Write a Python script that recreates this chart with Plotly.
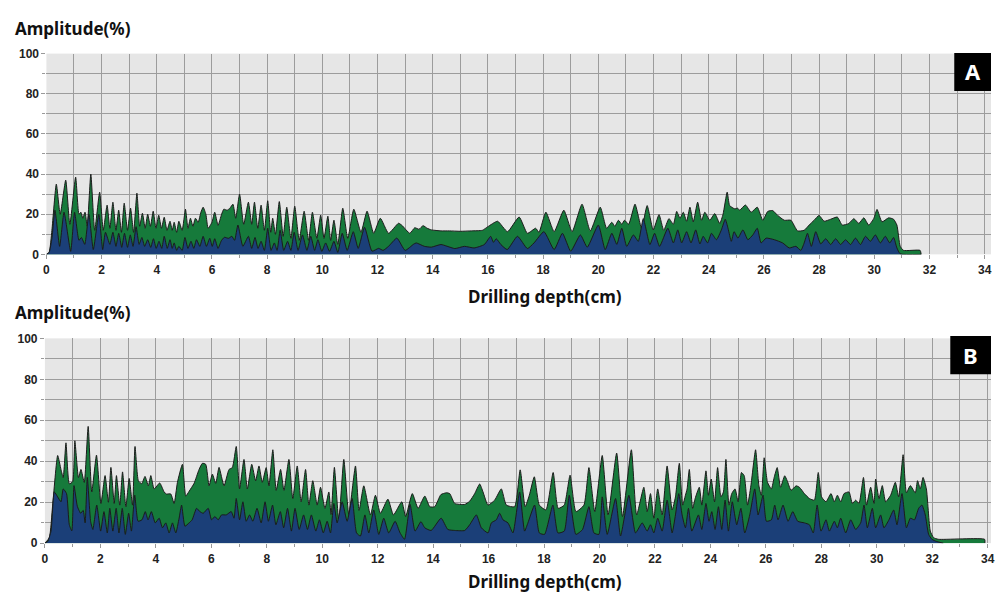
import plotly.graph_objects as go

# ---------------- Panel A ----------------
a_green_depth = [0.0, 0.1, 0.2, 0.36, 0.5, 0.7, 0.85, 1.06, 1.18, 1.25, 1.32, 1.4, 1.48, 1.61, 1.75, 1.93, 2.06,
                 2.2, 2.3, 2.41, 2.52, 2.62, 2.72, 2.82, 2.94, 3.05, 3.16, 3.28, 3.38, 3.48, 3.58, 3.67, 3.77,
                 3.87, 3.97, 4.07, 4.17, 4.27, 4.37, 4.48, 4.56, 4.63, 4.72, 4.8, 4.92, 5.04, 5.13, 5.22, 5.31,
                 5.4, 5.5, 5.6, 5.68, 5.78, 5.86, 6.0, 6.1, 6.22, 6.35, 6.43, 6.55, 6.65, 6.76, 6.86, 7.0, 7.15,
                 7.32, 7.44, 7.54, 7.66, 7.78, 7.9, 8.02, 8.13, 8.2, 8.3, 8.44, 8.58, 8.71, 8.86, 9.0, 9.16,
                 9.34, 9.5, 9.64, 9.8, 9.94, 10.06, 10.2, 10.3, 10.42, 10.56, 10.74, 10.92, 11.14, 11.4, 11.62,
                 11.86, 12.1, 12.4, 12.76, 12.88, 13.17, 13.35, 13.5, 13.65, 13.8, 13.95, 14.3, 14.6, 15.0,
                 15.4, 15.8, 16.0, 16.35, 16.71, 17.13, 17.43, 17.73, 17.85, 18.1, 18.4, 18.75, 19.05, 19.41,
                 19.71, 20.07, 20.3, 20.49, 20.6, 20.73, 20.85, 20.95, 21.1, 21.33, 21.57, 21.77, 21.99, 22.2,
                 22.37, 22.56, 22.72, 22.84, 22.96, 23.08, 23.2, 23.32, 23.44, 23.6, 23.74, 23.86, 24.04,
                 24.22, 24.4, 24.52, 24.67, 24.76, 24.94, 25.05, 25.12, 25.33, 25.54, 25.76, 25.96, 26.14,
                 26.32, 26.5, 26.74, 26.98, 27.22, 27.46, 27.64, 27.82, 28.0, 28.18, 28.42, 28.66, 28.84,
                 29.08, 29.26, 29.44, 29.62, 29.8, 29.98, 30.1, 30.28, 30.52, 30.7, 30.82, 30.94, 31.06,
                 31.66, 31.7]
a_green_amp = [0, 1, 12, 35, 20, 37, 15, 38.5, 20, 21, 18, 21, 14, 40, 12, 31, 12,
               24.5, 13, 26, 12, 22, 11, 25.5, 12, 23, 11, 30.5, 14, 20.5, 13, 20, 14,
               21.5, 13, 19.5, 13, 18.5, 12, 16.5, 12, 16, 11, 16.5, 12, 22.5, 13, 18, 14,
               18, 16, 21, 23.5, 20, 13, 16, 21, 14.5, 20, 22.5, 22, 23, 25, 18, 30, 15,
               26, 15, 26, 13, 24.5, 12, 26.7, 11, 18, 10, 26.3, 9, 23.5, 8, 24, 7,
               21.5, 7, 21, 8, 19.5, 8, 19, 7, 17, 5, 23, 8, 22.5, 11, 21.5,
               10.5, 18, 10.5, 15.5, 14.5, 10.5, 13.3, 12.5, 14.3, 13, 12.2, 11.7, 11.7, 11.5,
               11.7, 12, 13.8, 16.5, 11.3, 18.6, 10.5, 13, 11, 21, 11.3, 22, 11.3, 25,
               11.7, 23.5, 13, 16, 14, 17, 15, 17, 15, 25, 13, 24.3, 12.2, 19.8,
               12, 17.8, 15, 21.4, 18, 21, 16.5, 23.5, 16.2, 26, 17, 21, 17,
               20.3, 15.4, 20, 31, 24.3, 22.7, 23, 22, 24.6, 21, 23.5, 17, 21.4,
               21.8, 19.4, 17, 17, 11.7, 12, 14.6, 17, 19.4, 16.5, 17.5, 18.6, 14.6,
               15.4, 17.8, 15.4, 18.2, 14.6, 17.8, 22.4, 16.2, 18.2, 17.5, 14.6, 4, 2,
               2, 0]

a_blue_depth = [0.0, 0.1, 0.2, 0.31, 0.48, 0.64, 0.88, 1.02, 1.18, 1.27, 1.39, 1.54, 1.7, 1.9, 2.04, 2.14,
                2.3, 2.41, 2.52, 2.62, 2.73, 2.83, 2.94, 3.04, 3.14, 3.25, 3.36, 3.46, 3.56, 3.67, 3.78, 3.88,
                3.98, 4.08, 4.18, 4.27, 4.38, 4.48, 4.56, 4.63, 4.72, 4.8, 4.92, 5.02, 5.13, 5.24, 5.34, 5.44,
                5.56, 5.68, 5.8, 5.92, 6.01, 6.1, 6.22, 6.34, 6.45, 6.6, 6.72, 6.82, 6.94, 7.12, 7.32, 7.44,
                7.56, 7.67, 7.78, 7.9, 8.02, 8.14, 8.26, 8.36, 8.47, 8.6, 8.74, 8.86, 8.98, 9.12, 9.28, 9.44,
                9.58, 9.72, 9.84, 9.98, 10.12, 10.26, 10.42, 10.56, 10.72, 10.9, 11.12, 11.3, 11.53, 11.8,
                12.04, 12.2, 12.4, 12.7, 13.0, 13.3, 13.4, 13.7, 13.95, 14.3, 14.8, 15.15, 15.5, 15.87, 16.1,
                16.2, 16.3, 16.47, 16.7, 17.07, 17.43, 17.67, 18.03, 18.4, 18.7, 19.0, 19.35, 19.6, 20.0,
                20.25, 20.49, 20.67, 20.85, 21.03, 21.27, 21.45, 21.63, 21.87, 22.04, 22.22, 22.52, 22.72,
                22.88, 23.02, 23.2, 23.36, 23.53, 23.68, 23.8, 23.96, 24.1, 24.28, 24.46, 24.6, 24.7, 24.82,
                24.92, 25.06, 25.24, 25.42, 25.6, 25.76, 25.9, 26.08, 26.38, 26.68, 26.92, 27.16, 27.34,
                27.46, 27.58, 27.72, 27.88, 28.06, 28.24, 28.42, 28.6, 28.78, 28.96, 29.14, 29.32, 29.5,
                29.68, 29.86, 30.04, 30.22, 30.4, 30.56, 30.7, 30.82, 30.94, 31.7]
a_blue_amp = [0, 1, 8, 22, 4, 21, 1.5, 21, 7, 8.4, 5, 20, 2.4, 20, 2.4, 11,
              5, 11, 4, 10.5, 3.5, 10.5, 3.5, 9.7, 4, 13.8, 5, 8.4, 4, 7.3, 3.5, 7.8,
              3, 6.5, 3, 9, 3, 7.3, 3, 5.7, 2, 4, 2, 8.4, 3, 6.5, 3, 7.3,
              4, 9, 4, 8, 4, 7.8, 3, 6.8, 8.5, 8, 9, 7, 14.6, 4, 9, 3,
              8.4, 3, 6.5, 2, 13, 2, 5.7, 2, 12, 2, 6.5, 2, 11, 2, 9.7, 2,
              9, 2, 7.3, 1.5, 5.7, 1.5, 6.5, 1, 10.5, 2, 11.3, 3, 13.5, 1.6,
              3, 2, 4, 8.1, 2, 5, 5.7, 4, 3.6, 4.9, 2.9, 4, 3.2, 4.9, 9,
              6, 7.8, 4.9, 2.4, 9, 2.9, 5.7, 11.3, 2.4, 10.5, 1.6, 9.7, 3.6, 14.6,
              2.4, 10.5, 5, 13, 4, 9.7, 6.5, 17.8, 4.9, 10.5, 4, 13, 5.7,
              12.2, 5.7, 11.3, 5.7, 12.2, 5.2, 9, 5.7, 10.5, 7.3, 12.2, 17.5, 13, 6.5,
              11.3, 8.1, 12.2, 7.3, 9.7, 13, 5.7, 8.1, 7.3, 5.7, 3.2, 4, 2,
              5.7, 10.5, 4, 11.3, 5.2, 7.8, 4.9, 7.8, 4.9, 7.3, 4.9, 8.1, 4.9,
              9, 6.5, 9.7, 5.7, 9, 5.7, 8.4, 3.2, 0.3, 0]

# ---------------- Panel B ----------------
b_green_depth = [0.0, 0.16, 0.28, 0.46, 0.58, 0.66, 0.76, 0.88, 1.0, 1.08, 1.21, 1.3, 1.42, 1.56, 1.69, 1.86,
                 2.02, 2.17, 2.29, 2.38, 2.5, 2.58, 2.7, 2.8, 2.92, 3.04, 3.16, 3.25, 3.37, 3.49, 3.61, 3.73,
                 3.82, 3.94, 4.14, 4.3, 4.38, 4.54, 4.66, 4.78, 4.96, 5.08, 5.2, 5.38, 5.56, 5.68, 5.8, 5.92,
                 6.04, 6.16, 6.28, 6.46, 6.64, 6.76, 6.9, 7.02, 7.18, 7.3, 7.46, 7.6, 7.72, 7.84, 7.98, 8.08,
                 8.22, 8.34, 8.5, 8.62, 8.8, 8.94, 9.1, 9.24, 9.4, 9.52, 9.66, 9.82, 9.94, 10.1, 10.24, 10.32,
                 10.44, 10.6, 10.78, 10.96, 11.2, 11.33, 11.5, 11.74, 11.92, 12.1, 12.37, 12.57, 12.87, 13.01,
                 13.25, 13.46, 13.7, 13.88, 14.06, 14.28, 14.48, 14.6, 14.78, 15.14, 15.32, 15.5, 15.68, 15.8,
                 15.98, 16.22, 16.46, 16.64, 16.94, 17.14, 17.32, 17.47, 17.65, 17.83, 18.07, 18.33, 18.51,
                 18.73, 18.94, 19.15, 19.44, 19.62, 19.83, 20.1, 20.31, 20.62, 20.83, 21.15, 21.34, 21.6,
                 21.72, 21.84, 21.96, 22.1, 22.26, 22.44, 22.62, 22.74, 22.88, 23.0, 23.1, 23.16, 23.24,
                 23.36, 23.45, 23.6, 23.69, 23.84, 23.93, 24.03, 24.15, 24.26, 24.38, 24.47, 24.56, 24.67,
                 24.77, 24.89, 25.0, 25.12, 25.22, 25.34, 25.46, 25.63, 25.75, 25.84, 25.94, 26.06, 26.2,
                 26.3, 26.41, 26.53, 26.68, 26.77, 26.91, 27.09, 27.21, 27.39, 27.57, 27.75, 27.89, 28.01,
                 28.17, 28.35, 28.47, 28.58, 28.7, 28.82, 29.0, 29.12, 29.24, 29.36, 29.52, 29.63, 29.78,
                 29.9, 29.96, 30.08, 30.2, 30.32, 30.5, 30.67, 30.79, 30.95, 31.07, 31.21, 31.39, 31.47,
                 31.57, 31.67, 31.79, 31.93, 32.05, 32.22, 33.89, 33.9]
b_green_amp = [0, 2.7, 18.6, 42.8, 36, 32, 49, 29, 30, 50, 32, 36, 29.7, 57, 25, 43,
               19.4, 33, 20, 37, 19.4, 33, 18.6, 34.8, 17.8, 31.6, 18.6, 47.2, 30.5, 29, 32.6, 28,
               33, 26.5, 29.4, 25, 24, 24, 19.4, 29.7, 38.5, 23, 25.3, 29.2, 36, 39, 38.5, 28,
               33.7, 29.2, 37, 28, 36, 36.9, 47.2, 26.5, 40.9, 26.5, 38.5, 30.5, 37.7, 29.7, 36.9, 28,
               45.6, 25.8, 36, 25.8, 40.9, 21.8, 37.7, 20.2, 36, 18.6, 30.5, 18.6, 27.3, 17, 25, 14,
               37, 10.8, 40.9, 14, 37.7, 16, 28, 13.8, 23.4, 14.6, 21.5, 13.8, 20.2, 13,
               24.2, 17, 23, 17.8, 17.8, 23.7, 24.6, 24.2, 19.4, 18.9, 20.5, 24.2, 28.9, 25,
               18.6, 21, 26.5, 18.6, 17.8, 35.8, 17.8, 23.4, 32.4, 18.6, 16.2, 34.5, 17,
               18.6, 33.2, 15.4, 18.6, 36.9, 15.4, 42.8, 13.8, 44, 13, 45.6, 13.8, 27.3,
               15.4, 24.2, 12.2, 26.5, 13.8, 37.7, 16.2, 22.6, 39, 18.6, 23.4, 26.5, 36,
               17, 21.8, 27.3, 18.6, 35.3, 23.4, 31.3, 20.2, 36.9, 22.6, 25, 40.9, 18.6,
               24.2, 26.5, 20.2, 34.5, 32.9, 18.6, 28, 45.6, 28, 23.4, 41.7, 29.7, 26.5,
               32.1, 36.9, 27.3, 32.9, 30.5, 25.8, 28, 27.3, 24.2, 21.8, 21, 34.5, 22.6,
               20.2, 24.2, 20.2, 23.4, 20.2, 24.2, 25, 19.4, 21, 19.4, 32.1, 18.6, 27.3,
               19.4, 31.3, 21.8, 28.1, 20.2, 23.4, 29.7, 22.6, 43.2, 24.6, 28.1, 24.6, 30.5,
               26.5, 32.1, 26.5, 5.9, 2.7, 1.9, 1.9, 0]

b_blue_depth = [0.0, 0.1, 0.22, 0.34, 0.46, 0.58, 0.66, 0.78, 0.88, 0.97, 1.05, 1.17, 1.29, 1.38, 1.45, 1.53,
                1.65, 1.73, 1.87, 2.01, 2.13, 2.25, 2.34, 2.45, 2.57, 2.67, 2.79, 2.9, 3.02, 3.12, 3.24, 3.36,
                3.5, 3.62, 3.72, 3.84, 3.98, 4.12, 4.24, 4.36, 4.48, 4.6, 4.72, 4.84, 4.93, 5.05, 5.2, 5.31,
                5.47, 5.59, 5.71, 5.89, 6.01, 6.13, 6.25, 6.37, 6.54, 6.72, 6.82, 6.9, 7.02, 7.14, 7.26, 7.38,
                7.5, 7.65, 7.8, 7.94, 8.06, 8.21, 8.33, 8.49, 8.61, 8.75, 8.89, 9.02, 9.17, 9.33, 9.47, 9.61,
                9.77, 9.9, 10.04, 10.18, 10.3, 10.42, 10.54, 10.72, 10.9, 11.08, 11.24, 11.38, 11.54, 11.68,
                11.86, 12.04, 12.22, 12.4, 12.63, 12.81, 12.97, 13.17, 13.35, 13.56, 13.7, 13.93, 14.29,
                14.53, 14.78, 15.14, 15.32, 15.56, 15.74, 15.98, 16.1, 16.28, 16.4, 16.52, 16.7, 16.88,
                17.12, 17.3, 17.42, 17.66, 17.83, 18.02, 18.32, 18.5, 18.73, 18.91, 19.15, 19.39, 19.62,
                19.8, 19.98, 20.1, 20.28, 20.58, 20.76, 21.06, 21.3, 21.54, 21.72, 21.84, 21.96, 22.1,
                22.26, 22.44, 22.62, 22.74, 22.86, 22.98, 23.1, 23.21, 23.33, 23.57, 23.69, 23.84, 23.95,
                24.05, 24.17, 24.29, 24.41, 24.53, 24.65, 24.79, 24.95, 25.1, 25.24, 25.42, 25.6, 25.72,
                25.9, 26.02, 26.2, 26.32, 26.44, 26.62, 26.8, 26.97, 27.15, 27.39, 27.57, 27.71, 27.85,
                27.99, 28.17, 28.29, 28.47, 28.58, 28.7, 28.88, 29.06, 29.24, 29.42, 29.54, 29.66, 29.84,
                29.96, 30.14, 30.26, 30.44, 30.61, 30.73, 30.91, 31.07, 31.21, 31.36, 31.51, 31.63, 31.75,
                31.87, 31.99, 32.16, 32.4]
b_blue_amp = [0, 0.8, 5.9, 25, 22.6, 20.2, 26.5, 24.2, 9, 6, 28.1, 18, 14.6, 16, 9.9, 32.1,
              10.5, 6.7, 18.6, 5.9, 15.4, 5, 17, 5.9, 17, 5, 17, 4.3, 14.6, 5.9, 23.4, 10.7,
              11.4, 15.4, 11.4, 15.4, 9.9, 12.2, 7.5, 9.9, 5, 9.9, 5, 12.2, 18.6, 8.3, 9.9, 11.4,
              17, 15.4, 14.6, 17, 11.4, 13, 11.4, 13.8, 13.8, 15.4, 12.2, 21.8, 11.4, 20.2, 10.7, 13.8,
              10.7, 17, 9.9, 20.2, 10.7, 18.6, 9, 15.4, 7.5, 17, 5.9, 17, 6.7, 13.8, 6.7, 13.8,
              5.9, 11.4, 5, 10.7, 5, 19.4, 9.9, 20.2, 10.7, 21.8, 5, 3.5, 13.8, 5,
              16.2, 4.3, 12.2, 5, 10.7, 5, 1.9, 18.9, 5.9, 10.5, 7.5, 6.2, 12.2,
              6.7, 6.2, 6.2, 9, 13.8, 7.5, 5, 9.9, 11.4, 14.6, 11.4, 9.9, 5,
              25, 5.9, 9.9, 18.6, 5, 4.3, 18.6, 5, 5.9, 23.4, 4.3, 6.7, 17.8,
              5, 4.3, 22.6, 4.3, 21.8, 3.5, 23.4, 5, 9.9, 5.9, 9, 5, 12.2,
              5.9, 21, 5, 13.8, 24.2, 13.8, 7.5, 17, 5.9, 13.8, 6.7, 19.4, 10.7,
              15.4, 6.7, 17.8, 6.7, 21, 5.9, 20.2, 9, 17, 5, 13.8, 26.5, 13.8,
              23.4, 10.7, 11.4, 18.6, 11.4, 18.6, 10.7, 15.4, 10.7, 9.9, 9, 5, 18.6,
              5.9, 11.4, 5.9, 10.7, 7.5, 12.2, 5, 11.4, 6.7, 9.9, 18.6, 7.5, 17,
              7.5, 13.8, 7.5, 11.4, 16.2, 9, 24.2, 7.5, 12.2, 11.4, 17, 18.6, 13.8,
              4.3, 1.9, 0.8, 0]

x_tick_vals = [0, 2, 4, 6, 8, 10, 12, 14, 16, 18, 20, 22, 24, 26, 28, 30, 32, 34]
y_tick_vals = [0, 20, 40, 60, 80, 100]

GREEN = "#167a3b"
BLUE = "#1b3f78"
EDGE = "#1c1c1c"
GRID = "#9c9c9c"

W, H = 995, 599

fig = go.Figure()
for xs, ys, col, xa, ya in [
    (a_green_depth, a_green_amp, GREEN, "x", "y"),
    (a_blue_depth, a_blue_amp, BLUE, "x", "y"),
    (b_green_depth, b_green_amp, GREEN, "x2", "y2"),
    (b_blue_depth, b_blue_amp, BLUE, "x2", "y2"),
]:
    fig.add_trace(go.Scatter(x=xs, y=ys, mode="lines", fill="tozeroy", fillcolor=col,
                             line=dict(color=EDGE, width=1, shape="spline", smoothing=0.5),
                             xaxis=xa, yaxis=ya, showlegend=False, hoverinfo="skip"))

tickfont = dict(family="Liberation Sans, Arial, sans-serif", size=12, color="#222222", weight="bold")

def xaxis_cfg(left_px, xmax, anchor):
    return dict(domain=[left_px / W, 1.0], range=[0, xmax], anchor=anchor,
                tickvals=x_tick_vals, showgrid=True, gridcolor=GRID, gridwidth=1,
                minor=dict(dtick=1, tick0=0, showgrid=True, gridcolor=GRID, gridwidth=1,
                           ticks="outside", ticklen=3, tickcolor="#999999"),
                ticks="outside", ticklen=4, tickcolor="#999999", ticklabeloverflow="allow",
                zeroline=False, showline=False, tickfont=tickfont, fixedrange=True)

def yaxis_cfg(bottom_px, top_px, anchor):
    return dict(domain=[(H - bottom_px) / H, (H - top_px) / H], range=[0, 100], anchor=anchor,
                tickvals=y_tick_vals, showgrid=True, gridcolor=GRID, gridwidth=1,
                minor=dict(dtick=10, tick0=0, showgrid=True, gridcolor=GRID, gridwidth=1,
                           ticks="outside", ticklen=3, tickcolor="#999999"),
                ticks="outside", ticklen=4, tickcolor="#999999",
                zeroline=False, showline=False, tickfont=tickfont, fixedrange=True)

title_font = dict(family="Noto Sans, Open Sans, sans-serif", size=17, color="#111111", weight="bold")

fig.update_layout(
    width=W, height=H,
    margin=dict(l=0, r=0, t=0, b=0),
    paper_bgcolor="white", plot_bgcolor="#e6e6e6",
    xaxis=xaxis_cfg(43.7, 34.23, "y"),
    yaxis=yaxis_cfg(253.3, 47.7, "x"),
    xaxis2=xaxis_cfg(42.2, 34.12, "y2"),
    yaxis2=yaxis_cfg(549.0, 339.3, "x2"),
    annotations=[
        dict(text="Amplitude(%)", x=10 / W, y=(H - 22) / H, xref="paper", yref="paper",
             xanchor="left", yanchor="middle", showarrow=False, font=title_font),
        dict(text="Amplitude(%)", x=10 / W, y=(H - 313) / H, xref="paper", yref="paper",
             xanchor="left", yanchor="middle", showarrow=False, font=title_font),
        dict(text="Drilling depth(cm)", x=546 / W, y=(H - 296) / H, xref="paper", yref="paper",
             xanchor="center", yanchor="middle", showarrow=False, font=title_font),
        dict(text="Drilling depth(cm)", x=546 / W, y=(H - 588) / H, xref="paper", yref="paper",
             xanchor="center", yanchor="middle", showarrow=False, font=title_font),
        dict(text="A", x=(976.5) / W, y=(H - 66) / H, xref="paper", yref="paper",
             xanchor="center", yanchor="middle", showarrow=False,
             font=dict(family="Noto Sans, Open Sans, sans-serif", size=22, color="white", weight="bold")),
        dict(text="B", x=(974.5) / W, y=(H - 356) / H, xref="paper", yref="paper",
             xanchor="center", yanchor="middle", showarrow=False,
             font=dict(family="Noto Sans, Open Sans, sans-serif", size=22, color="white", weight="bold")),
    ],
    shapes=[
        dict(type="rect", xref="paper", yref="paper", x0=958 / W, x1=1.0,
             y0=(H - 86) / H, y1=(H - 47) / H, fillcolor="black", line=dict(width=0)),
        dict(type="rect", xref="paper", yref="paper", x0=954 / W, x1=1.0,
             y0=(H - 376) / H, y1=(H - 337) / H, fillcolor="black", line=dict(width=0)),
    ],
)

fig.write_html("out.html", config={"displayModeBar": False},
               post_script="document.body.style.margin='0';document.body.style.overflow='hidden';")
